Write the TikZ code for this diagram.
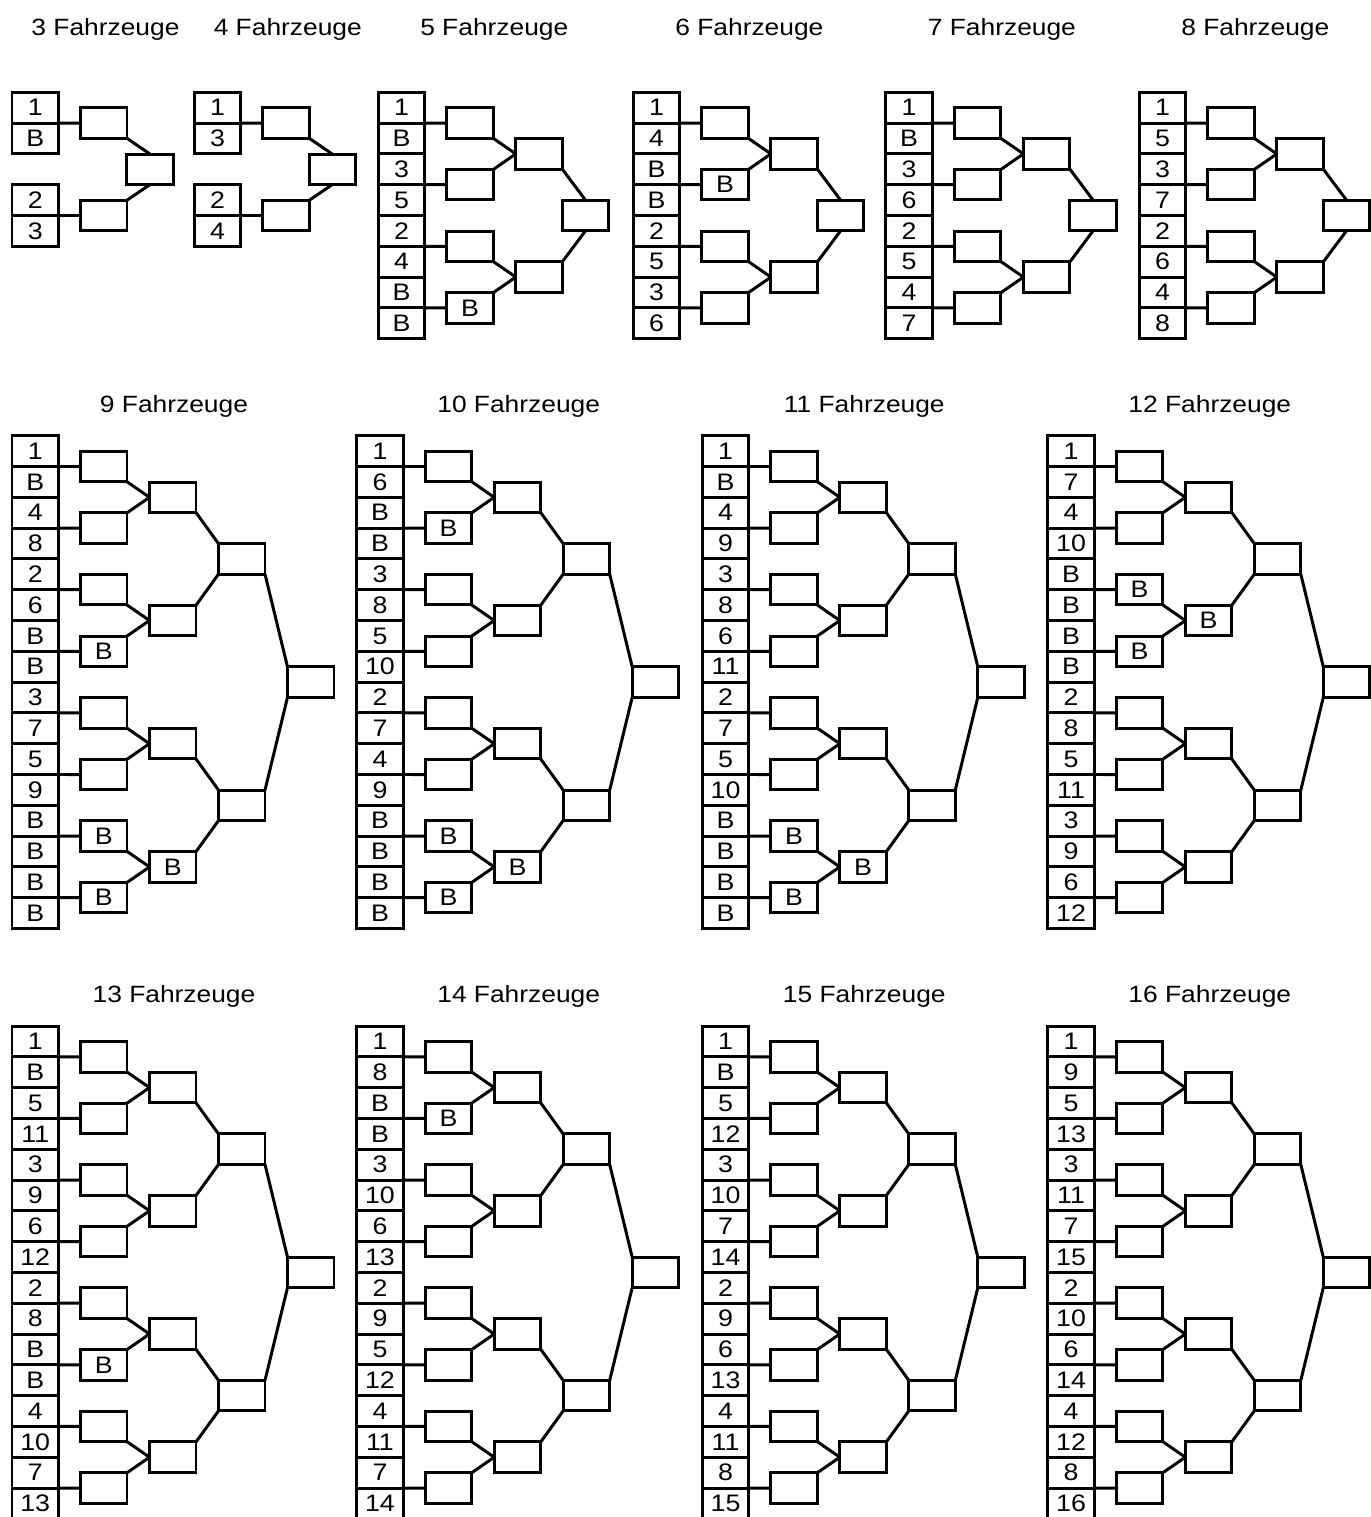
\documentclass[tikz,border=0pt]{standalone}
\usepackage{fontspec}
\setmainfont[FakeStretch=1.12]{Liberation Sans}
\usepackage{tikz}

% bracket for 3 and 4 vehicles: #1 count, #2 x, #3 y (top of seeds), #4 seeds
\newcommand{\fourplan}[4]{
  \node[title] (v#1t) at ({#2+93.5},{#3-63}) {#1 Fahrzeuge};
  \foreach \lab [count=\i] in {#4}{
    \pgfmathtruncatemacro\rw{\i+(\i>2)}
    \node[seed] (v#1s\i) at ({#2+23.25},{#3+(\rw-0.5)*30.8}) {\lab};
  }
  \node[slot] (v#1a1) at ({#2+91.75},{#3+30.8}) {};
  \node[slot] (v#1a2) at ({#2+91.75},{#3+4*30.8}) {};
  \node[slot] (v#1f) at ({#2+138},{#3+2.5*30.8}) {};
  \draw[link] (v#1s1.south east) -- (v#1a1.west);
  \draw[link] (v#1s3.south east) -- (v#1a2.west);
  \draw[link] (v#1a1.south east) -- (v#1f.north);
  \draw[link] (v#1a2.north east) -- (v#1f.south);
}

% bracket for 5 to 8 vehicles: #5 first round
\newcommand{\eightplan}[5]{
  \node[title] (v#1t) at ({#2+116},{#3-63}) {#1 Fahrzeuge};
  \foreach \lab [count=\i] in {#4}
    \node[seed] (v#1s\i) at ({#2+23.25},{#3+(\i-0.5)*30.8}) {\lab};
  \foreach \lab [count=\j] in {#5}{
    \pgfmathtruncatemacro\lo{2*\j-1}
    \node[slot] (v#1a\j) at ({#2+91.75},{#3+\lo*30.8}) {\lab};
    \draw[link] (v#1s\lo.south east) -- (v#1a\j.west);
  }
  \foreach \j in {1,2}{
    \pgfmathtruncatemacro\lo{2*\j-1}
    \pgfmathtruncatemacro\hi{2*\j}
    \node[slot] (v#1b\j) at ({#2+160.75},{#3+(4*\j-2)*30.8}) {};
    \draw[link] (v#1a\lo.south east) -- (v#1b\j.west);
    \draw[link] (v#1a\hi.north east) -- (v#1b\j.west);
  }
  \node[slot] (v#1f) at ({#2+207.25},{#3+4*30.8}) {};
  \draw[link] (v#1b1.south east) -- (v#1f.north);
  \draw[link] (v#1b2.north east) -- (v#1f.south);
}

% bracket for 9 to 16 vehicles: #5 first round, #6 second round
\newcommand{\sixteenplan}[6]{
  \node[title] (v#1t) at ({#2+162},{#3-29.5}) {#1 Fahrzeuge};
  \foreach \lab [count=\i] in {#4}
    \node[seed] (v#1s\i) at ({#2+23.25},{#3+(\i-0.5)*30.8}) {\lab};
  \foreach \lab [count=\j] in {#5}{
    \pgfmathtruncatemacro\lo{2*\j-1}
    \node[slot] (v#1a\j) at ({#2+91.75},{#3+\lo*30.8}) {\lab};
    \draw[link] (v#1s\lo.south east) -- (v#1a\j.west);
  }
  \foreach \lab [count=\j] in {#6}{
    \pgfmathtruncatemacro\lo{2*\j-1}
    \pgfmathtruncatemacro\hi{2*\j}
    \node[slot] (v#1b\j) at ({#2+160.75},{#3+(4*\j-2)*30.8}) {\lab};
    \draw[link] (v#1a\lo.south east) -- (v#1b\j.west);
    \draw[link] (v#1a\hi.north east) -- (v#1b\j.west);
  }
  \foreach \j in {1,2}{
    \pgfmathtruncatemacro\lo{2*\j-1}
    \pgfmathtruncatemacro\hi{2*\j}
    \node[slot] (v#1c\j) at ({#2+229.75},{#3+(8*\j-4)*30.8}) {};
    \draw[link] (v#1b\lo.south east) -- (v#1c\j.north west);
    \draw[link] (v#1b\hi.north east) -- (v#1c\j.south west);
  }
  \node[slot] (v#1f) at ({#2+298.75},{#3+8*30.8}) {};
  \draw[link] (v#1c1.south east) -- (v#1f.north west);
  \draw[link] (v#1c2.north east) -- (v#1f.south west);
}

\begin{document}
\begin{tikzpicture}[x=0.02cm, y=-0.02cm,
    title/.style={font=\fontsize{13.4}{16}\selectfont},
    seed/.style={draw, line width=1.7pt, minimum width=0.93cm, minimum height=0.616cm,
      inner sep=0pt, outer sep=0pt, font=\fontsize{13.6}{16}\selectfont},
    slot/.style={seed, minimum height=0.61cm},
    link/.style={line width=1.7pt}]
  \useasboundingbox (0,0) rectangle (1370,1517);

  % first row
  \fourplan{3}{12}{92.3}{1,B,2,3}
  \fourplan{4}{194.3}{92.3}{1,3,2,4}
  \eightplan{5}{378.3}{92.3}{1,B,3,5,2,4,B,B}{{},{},{},B}
  \eightplan{6}{633.4}{92.3}{1,4,B,B,2,5,3,6}{{},B,{},{}}
  \eightplan{7}{885.9}{92.3}{1,B,3,6,2,5,4,7}{{},{},{},{}}
  \eightplan{8}{1139.3}{92.3}{1,5,3,7,2,6,4,8}{{},{},{},{}}

  % second row
  \sixteenplan{9}{12}{435.7}{1,B,4,8,2,6,B,B,3,7,5,9,B,B,B,B}{{},{},{},B,{},{},B,B}{{},{},{},B}
  \sixteenplan{10}{356.7}{435.7}{1,6,B,B,3,8,5,10,2,7,4,9,B,B,B,B}{{},B,{},{},{},{},B,B}{{},{},{},B}
  \sixteenplan{11}{702.3}{435.7}{1,B,4,9,3,8,6,11,2,7,5,10,B,B,B,B}{{},{},{},{},{},{},B,B}{{},{},{},B}
  \sixteenplan{12}{1047.8}{435.7}{1,7,4,10,B,B,B,B,2,8,5,11,3,9,6,12}{{},{},B,B,{},{},{},{}}{{},B,{},{}}

  % third row
  \sixteenplan{13}{12}{1026}{1,B,5,11,3,9,6,12,2,8,B,B,4,10,7,13}{{},{},{},{},{},B,{},{}}{{},{},{},{}}
  \sixteenplan{14}{356.7}{1026}{1,8,B,B,3,10,6,13,2,9,5,12,4,11,7,14}{{},B,{},{},{},{},{},{}}{{},{},{},{}}
  \sixteenplan{15}{702.3}{1026}{1,B,5,12,3,10,7,14,2,9,6,13,4,11,8,15}{{},{},{},{},{},{},{},{}}{{},{},{},{}}
  \sixteenplan{16}{1047.8}{1026}{1,9,5,13,3,11,7,15,2,10,6,14,4,12,8,16}{{},{},{},{},{},{},{},{}}{{},{},{},{}}
\end{tikzpicture}
\end{document}
